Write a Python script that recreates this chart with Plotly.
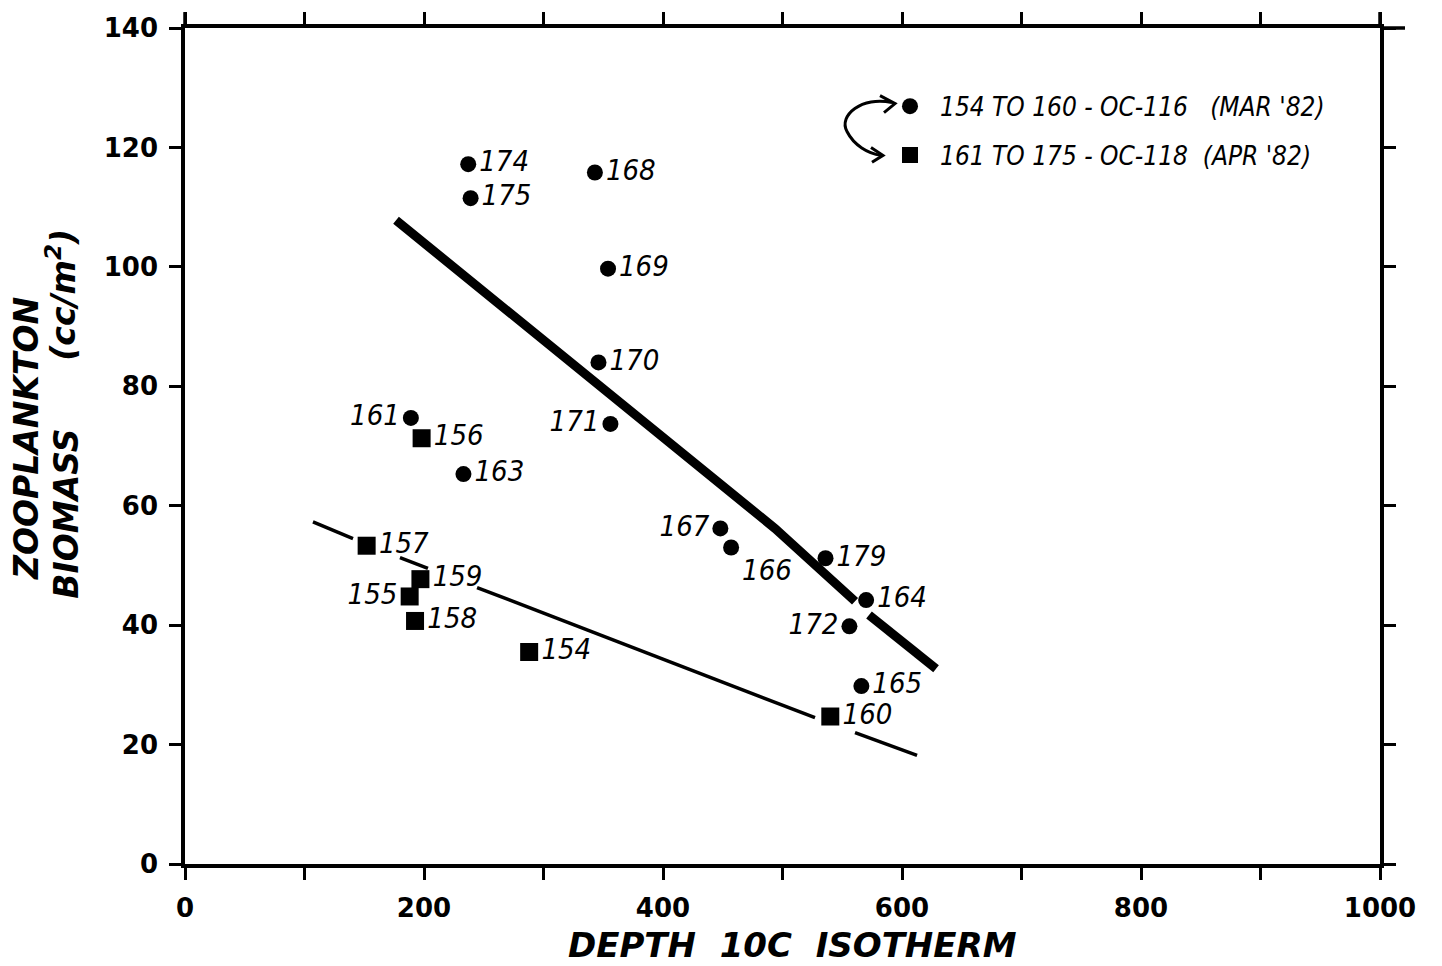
import plotly.graph_objects as go

# ---- data ----
circle_labels = ["174", "175", "168", "169", "170", "171", "161", "163",
                 "167", "166", "179", "164", "172", "165"]
circle_x = [237, 239, 343, 354, 346, 356, 189, 233, 448, 457, 536, 570, 556, 566]
circle_y = [117.2, 111.5, 115.8, 99.7, 84.0, 73.7, 74.7, 65.3, 56.2, 53.0, 51.2,
            44.2, 39.8, 29.8]

square_labels = ["156", "157", "159", "155", "158", "154", "160"]
square_x = [198, 152, 197, 188, 192.5, 288, 540]
square_y = [71.3, 53.3, 47.7, 44.8, 40.7, 35.5, 24.7]

# regression lines (segments broken where labels cross them)
thick_x = [176.6, 493.7, 560.7, None, 572.4, 628.5]
thick_y = [107.8, 56.2, 44.0, None, 41.7, 32.7]
thin_x = [107.1, 140.6, None, 179.9, 203.3, None, 244.4, 527.2, None, 560.7, 612.6]
thin_y = [57.3, 54.5, None, 51.3, 49.5, None, 46.3, 24.5, None, 22.0, 18.2]

x_ticks = [0, 200, 400, 600, 800, 1000]
y_ticks = [0, 20, 40, 60, 80, 100, 120, 140]

legend_circle = "154 TO 160 - OC-116   (MAR '82)"
legend_square = "161 TO 175 - OC-118  (APR '82)"

# ---- styles ----
circle_pos = {"161": "middle left", "171": "middle left", "167": "middle left",
              "172": "middle left", "166": "bottom right"}
square_pos = {"155": "middle left"}

HAND = "Liberation Sans Narrow, DejaVu Sans Condensed, Liberation Sans, sans-serif"
BOLD = "DejaVu Sans, Verdana, sans-serif"

fig = go.Figure()

fig.add_trace(go.Scatter(x=thick_x, y=thick_y, mode="lines",
                         line=dict(color="black", width=9), showlegend=False,
                         hoverinfo="skip"))
fig.add_trace(go.Scatter(x=thin_x, y=thin_y, mode="lines",
                         line=dict(color="black", width=3.5), showlegend=False,
                         hoverinfo="skip"))

fig.add_trace(go.Scatter(
    x=circle_x, y=circle_y, mode="markers+text", name=legend_circle,
    legendgroup="a",
    text=circle_labels,
    textposition=[circle_pos.get(l, "middle right") for l in circle_labels],
    textfont=dict(family=HAND, size=29, color="black", style="italic"),
    marker=dict(symbol="circle", size=16, color="black"),
))
fig.add_trace(go.Scatter(
    x=square_x, y=square_y, mode="markers+text", name=legend_square,
    legendgroup="b",
    text=square_labels,
    textposition=[square_pos.get(l, "middle right") for l in square_labels],
    textfont=dict(family=HAND, size=29, color="black", style="italic"),
    marker=dict(symbol="square", size=18, color="black"),
))

axis_common = dict(showline=True, linecolor="black", linewidth=3.5, mirror="ticks",
                   ticks="outside", ticklen=12, tickwidth=3, tickcolor="black",
                   showgrid=False, zeroline=False, ticklabelstandoff=6,
                   tickfont=dict(family=BOLD, size=26, color="black", weight="bold"))

fig.update_xaxes(range=[0, 1000], tickvals=x_ticks,
                 minor=dict(dtick=100, tick0=0, ticks="outside", ticklen=12,
                            tickwidth=3, tickcolor="black", showgrid=False),
                 **axis_common)
fig.update_yaxes(range=[0, 140], tickvals=y_ticks, **axis_common)

W, H = 1442, 966
L, R, T, B = 185, 62, 24, 102
pw, ph = W - L - R, H - T - B


def px(xp):
    return (xp - L) / pw


def py(yp):
    return (H - B - yp) / ph


annotations = [
    dict(text="DEPTH  10C  ISOTHERM", x=px(792), y=py(945), xref="paper", yref="paper",
         showarrow=False, xanchor="center", yanchor="middle",
         font=dict(family=BOLD, size=34, color="black", weight="bold", style="italic")),
    dict(text="ZOOPLANKTON", x=px(26), y=py(437), xref="paper", yref="paper",
         showarrow=False, textangle=-90, xanchor="center", yanchor="middle",
         font=dict(family=BOLD, size=33, color="black", weight="bold", style="italic")),
    dict(text="BIOMASS", x=px(67), y=py(512), xref="paper", yref="paper",
         showarrow=False, textangle=-90, xanchor="center", yanchor="middle",
         font=dict(family=BOLD, size=33, color="black", weight="bold", style="italic")),
    dict(text="(cc/m<sup>2</sup>)", x=px(62), y=py(292), xref="paper", yref="paper",
         showarrow=False, textangle=-90, xanchor="center", yanchor="middle",
         font=dict(family=BOLD, size=33, color="black", weight="bold", style="italic")),
]

shapes = [
    # axis overhangs at the top corners
    dict(type="line", xref="paper", yref="paper", x0=1.0, x1=px(1405), y0=1.0, y1=1.0,
         line=dict(color="black", width=3.5)),
    dict(type="line", xref="paper", yref="paper", x0=0.0, x1=0.0, y0=1.0, y1=py(8),
         line=dict(color="black", width=3.5)),
    dict(type="line", xref="paper", yref="paper", x0=1.0, x1=1.0, y0=1.0, y1=py(8),
         line=dict(color="black", width=3.5)),
    # curved swap arrow next to the legend
    dict(type="path", xref="paper", yref="paper",
         path=(f"M {px(892)},{py(99)} C {px(862)},{py(92)} {px(838)},{py(112)} {px(847)},{py(128)} "
               f"C {px(854)},{py(142)} {px(868)},{py(150)} {px(881)},{py(152)}"),
         line=dict(color="black", width=3)),
    dict(type="path", xref="paper", yref="paper",
         path=f"M {px(880)},{py(92)} L {px(895)},{py(100)} L {px(884)},{py(109)}",
         line=dict(color="black", width=3)),
    dict(type="path", xref="paper", yref="paper",
         path=f"M {px(871)},{py(144)} L {px(883)},{py(152)} L {px(872)},{py(159)}",
         line=dict(color="black", width=3)),
]

fig.update_layout(
    width=W, height=H,
    margin=dict(l=L, r=R, t=T, b=B),
    paper_bgcolor="white", plot_bgcolor="white",
    showlegend=True,
    legend=dict(x=px(880), y=py(79), xanchor="left", yanchor="top",
                bgcolor="rgba(0,0,0,0)", borderwidth=0, tracegroupgap=12,
                traceorder="grouped", itemsizing="trace", itemwidth=50,
                font=dict(family=HAND, size=26, color="black", style="italic")),
    annotations=annotations,
    shapes=shapes,
)

fig.write_html("out.html")
